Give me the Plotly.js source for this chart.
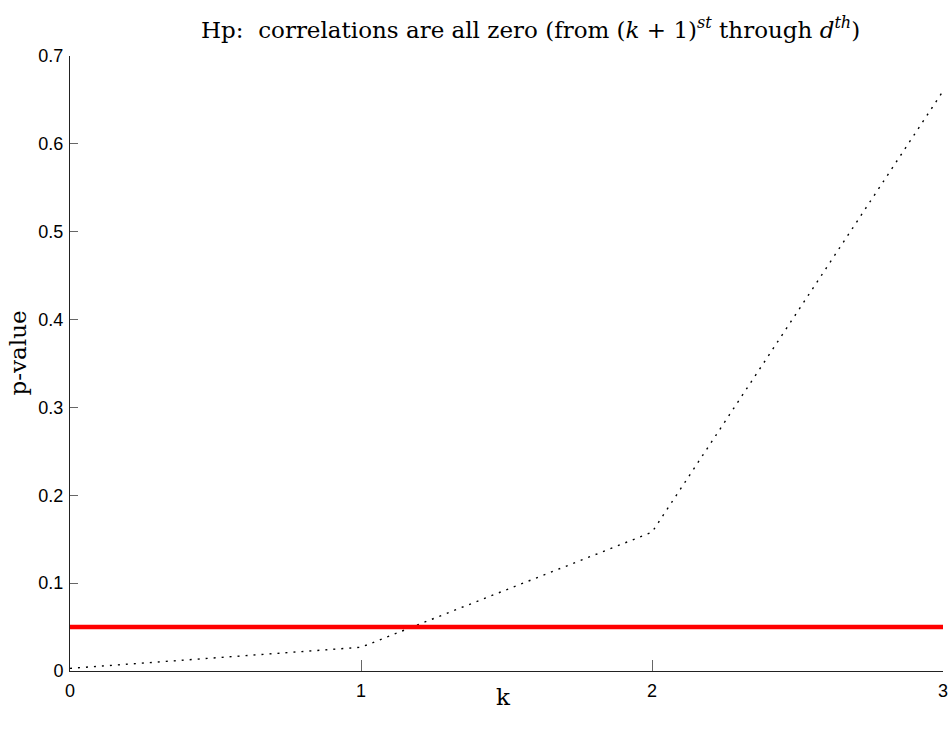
<!DOCTYPE html>
<html>
<head>
<meta charset="utf-8">
<script src="https://cdn.plot.ly/plotly-3.0.1.min.js"></script>
<style>
  html, body { margin: 0; padding: 0; background: #fff; }
  #chart { width: 950px; height: 737px; }
</style>
</head>
<body>
<div id="chart"></div>
<script>
// Number of retained correlations k and the p-value of the test
const kValues = [0, 1, 2, 3];
const pValues = [0.003, 0.027, 0.158, 0.66];
// Significance level
const alphaLevel = 0.05;
const alphaX = [0, 3];

const xTicks = [0, 1, 2, 3];
const yTicks = [0, 0.1, 0.2, 0.3, 0.4, 0.5, 0.6, 0.7];
const yTickText = ['0', '0.1', '0.2', '0.3', '0.4', '0.5', '0.6', '0.7'];

const tickFont = { family: '"Liberation Sans", Arial, sans-serif', size: 18, color: '#000' };
const serif = '"DejaVu Serif", "Liberation Serif", serif';

const traces = [
  {
    x: kValues,
    y: pValues,
    mode: 'lines',
    line: { color: '#000', width: 1.4, dash: '2px,6px' },
    hoverinfo: 'x+y'
  },
  {
    x: alphaX,
    y: [alphaLevel, alphaLevel],
    mode: 'lines',
    line: { color: '#ff0000', width: 4.5 },
    hoverinfo: 'y'
  }
];

const layout = {
  width: 950,
  height: 737,
  margin: { l: 70, r: 7, t: 56, b: 66 },
  paper_bgcolor: '#fff',
  plot_bgcolor: '#fff',
  showlegend: false,
  xaxis: {
    range: [0, 3],
    tickvals: xTicks,
    ticktext: xTicks.map(String),
    ticks: 'inside',
    ticklen: 11,
    tickwidth: 1,
    tickcolor: '#666',
    showline: true,
    linecolor: '#222',
    linewidth: 1,
    mirror: false,
    showgrid: false,
    zeroline: false,
    tickfont: tickFont,
    ticklabelstandoff: 3
  },
  yaxis: {
    range: [0, 0.7],
    tickvals: yTicks,
    ticktext: yTickText,
    ticks: 'inside',
    ticklen: 8,
    tickwidth: 1,
    tickcolor: '#666',
    showline: true,
    linecolor: '#222',
    linewidth: 1,
    mirror: false,
    showgrid: false,
    zeroline: false,
    tickfont: tickFont,
    ticklabelstandoff: 2
  },
  annotations: [
    {
      text: 'Hp:  correlations are all zero (from (<i>k</i> + 1)<sup><i>st</i></sup> through <i>d</i><sup><i>th</i></sup>)',
      xref: 'paper', yref: 'paper',
      x: 0.527, y: 1.0, yshift: 11,
      xanchor: 'center', yanchor: 'bottom',
      showarrow: false,
      font: { family: serif, size: 23, color: '#000' }
    },
    {
      text: 'p-value',
      xref: 'paper', yref: 'paper',
      x: -0.0596, y: 0.518,
      xanchor: 'center', yanchor: 'middle',
      textangle: -90,
      showarrow: false,
      font: { family: serif, size: 23, color: '#000' }
    },
    {
      text: 'k',
      xref: 'paper', yref: 'paper',
      x: 0.497, y: -0.042,
      xanchor: 'center', yanchor: 'middle',
      showarrow: false,
      font: { family: serif, size: 23, color: '#000' }
    }
  ]
};

Plotly.newPlot('chart', traces, layout, { displayModeBar: false, staticPlot: true });
</script>
</body>
</html>
